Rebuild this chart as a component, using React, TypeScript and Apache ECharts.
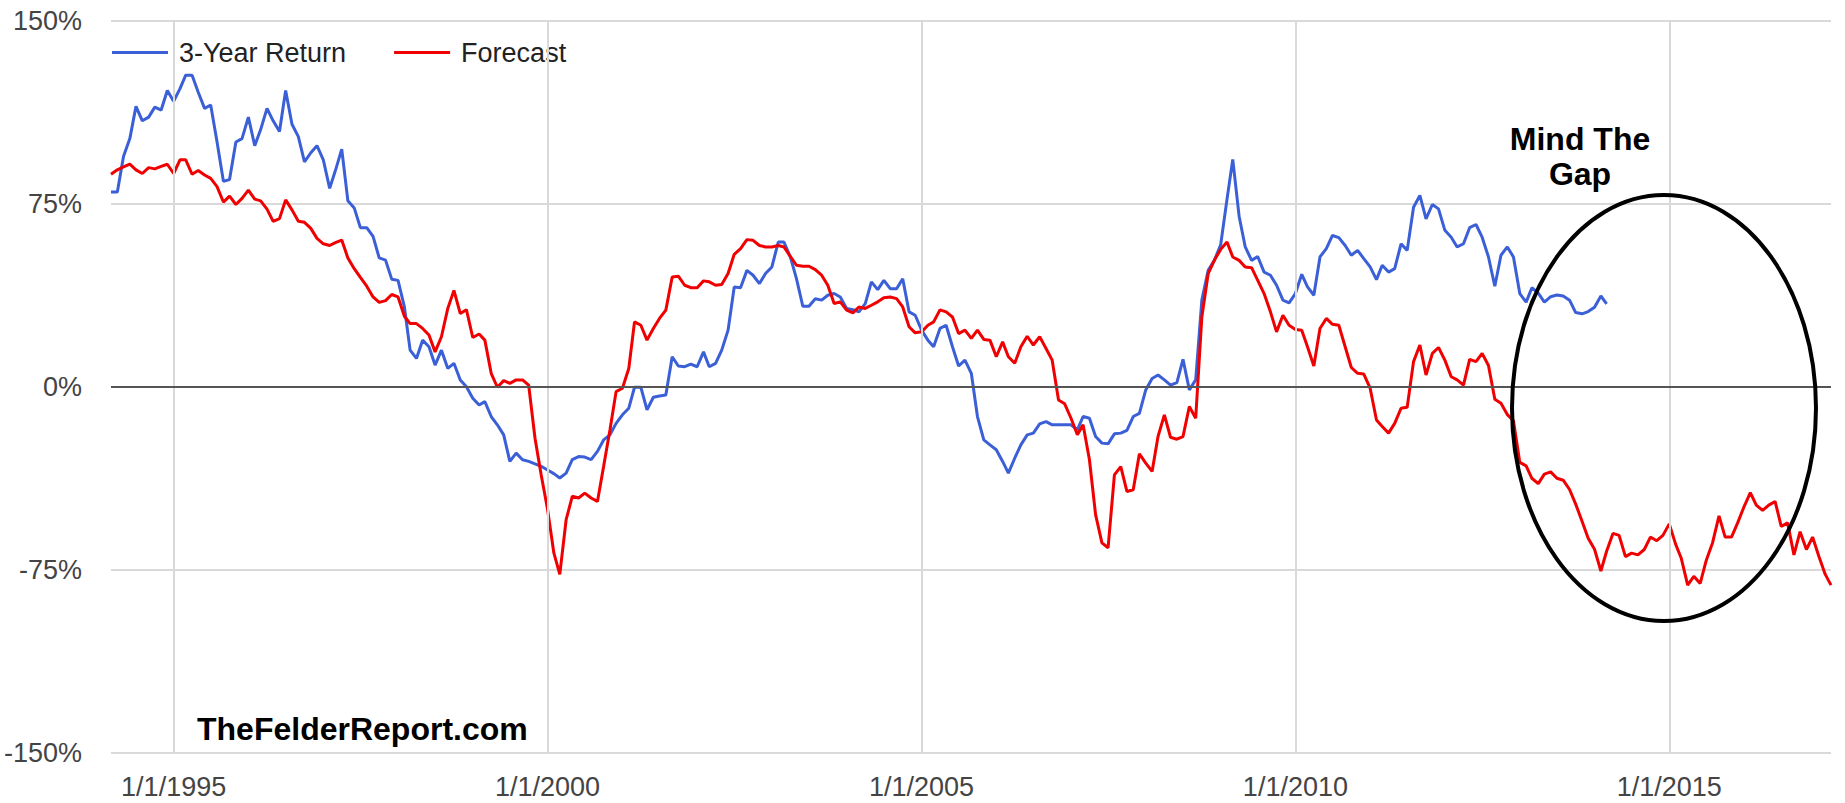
import React, { useEffect, useRef } from "react";
import * as echarts from "echarts";

// Monthly observations, first point March 1994
const START_YEAR = 1994;
const START_MONTH = 3;

const threeYearReturn: number[] = [
  79.9, 79.9, 94.5, 101.8, 115.0, 109.1, 110.6, 114.7, 113.5, 121.5,
  117.1, 122.3, 127.8, 127.8, 120.8, 114.2, 115.6, 100.4, 84.3, 85.0,
  100.4, 101.8, 110.6, 98.9, 105.5, 114.2, 109.1, 104.7, 121.5, 107.7,
  102.6, 92.3, 96.0, 98.9, 93.1, 81.4, 88.7, 97.5, 76.3, 73.4,
  65.3, 65.3, 61.7, 52.9, 52.0, 44.2, 43.7, 32.8, 15.1, 11.7,
  19.2, 16.5, 9.0, 15.1, 7.6, 9.7, 2.9, 0.1, -4.6, -7.4,
  -6.0, -12.1, -15.5, -19.6, -30.5, -27.1, -29.8, -30.5, -31.5, -32.5,
  -34.0, -35.5, -37.3, -35.3, -29.8, -28.5, -28.7, -29.8, -26.4, -21.7,
  -19.6, -14.9, -11.4, -8.7, -0.1, -0.1, -9.4, -4.2, -3.7, -3.3,
  12.4, 8.6, 8.3, 9.4, 8.3, 14.4, 8.3, 9.7, 15.1, 23.3,
  41.0, 40.7, 47.8, 45.8, 42.4, 46.5, 49.2, 59.4, 59.4, 53.3,
  44.4, 33.1, 33.1, 36.2, 35.6, 37.6, 38.3, 36.9, 32.2, 31.7,
  30.8, 34.2, 43.1, 39.9, 43.7, 40.3, 40.3, 44.4, 30.8, 29.4,
  23.3, 19.2, 16.5, 24.0, 25.3, 16.5, 8.6, 11.0, 5.6, -12.1,
  -21.7, -23.7, -25.7, -30.5, -35.3, -29.2, -23.7, -19.6, -18.9, -15.1,
  -14.2, -15.5, -15.5, -15.5, -15.5, -17.6, -12.1, -12.8, -20.3, -23.0,
  -23.3, -19.2, -18.9, -17.8, -12.1, -10.8, -1.2, 3.5, 4.9, 2.9,
  0.8, 1.8, 11.3, -1.2, 2.9, 35.6, 47.8, 51.9, 58.3, 77.0,
  93.3, 70.0, 57.4, 51.9, 53.5, 47.1, 45.8, 41.7, 35.6, 34.5,
  38.3, 46.2, 41.0, 37.6, 53.3, 56.7, 62.1, 61.2, 58.0, 54.0,
  56.0, 52.6, 49.2, 44.0, 49.9, 47.1, 48.5, 58.7, 56.0, 73.7,
  78.5, 68.9, 74.8, 73.0, 64.2, 61.4, 57.4, 58.7, 65.3, 66.6,
  61.4, 53.3, 41.3, 54.0, 57.4, 53.3, 38.3, 34.8, 40.7, 38.5,
  34.8, 37.0, 37.7, 37.3, 35.6, 30.5, 30.0, 30.9, 32.7, 37.3,
  34.1,
];

const forecast: number[] = [
  87.2, 89.0, 90.2, 91.3, 89.0, 87.5, 89.9, 89.4, 90.4, 91.3,
  87.5, 93.1, 93.1, 87.2, 88.7, 86.9, 85.5, 82.1, 75.8, 78.2,
  74.8, 77.3, 80.7, 77.0, 76.3, 72.9, 67.9, 69.0, 76.7, 72.6,
  67.9, 67.5, 65.0, 60.9, 58.7, 58.0, 59.2, 60.2, 52.9, 48.5,
  44.9, 41.3, 36.9, 34.7, 35.4, 37.9, 36.9, 29.0, 26.0, 26.0,
  24.0, 21.3, 14.4, 20.6, 32.2, 39.6, 30.1, 31.7, 20.3, 21.7,
  19.2, 5.6, -0.1, 2.6, 1.5, 2.9, 2.9, 0.8, -21.0, -36.0,
  -50.0, -68.0, -76.8, -54.4, -44.8, -45.5, -43.5, -45.5, -46.9, -32.6,
  -17.6, -1.9, -0.5, 7.6, 26.7, 25.3, 19.2, 24.0, 28.1, 31.5,
  45.1, 45.4, 41.7, 40.7, 40.7, 43.5, 43.1, 41.7, 42.0, 46.5,
  54.4, 56.7, 60.4, 60.1, 58.0, 57.4, 57.4, 58.0, 57.4, 53.5,
  49.9, 49.5, 49.5, 48.1, 45.8, 41.7, 34.2, 34.9, 31.5, 30.4,
  32.8, 32.2, 33.5, 34.9, 36.6, 36.9, 36.2, 32.8, 24.7, 22.2,
  22.6, 25.3, 26.7, 31.6, 30.8, 28.7, 21.9, 23.3, 19.9, 23.3,
  19.5, 19.2, 12.4, 18.5, 12.4, 9.7, 16.5, 20.8, 17.2, 20.6,
  15.8, 11.0, -5.3, -6.9, -12.8, -19.6, -15.5, -29.8, -52.3, -63.9,
  -65.9, -36.0, -32.6, -42.8, -42.1, -27.4, -31.2, -34.6, -20.3, -11.4,
  -20.6, -21.4, -20.3, -8.0, -12.8, 28.7, 46.5, 51.9, 56.4, 59.4,
  53.3, 51.9, 49.2, 48.9, 43.7, 38.3, 30.8, 22.6, 29.4, 25.3,
  23.6, 23.3, 16.5, 8.6, 24.0, 28.1, 25.7, 25.3, 16.5, 8.0,
  5.6, 5.3, -0.5, -13.5, -16.2, -18.9, -14.9, -8.7, -8.3, 10.4,
  17.2, 4.9, 13.8, 16.2, 11.0, 4.2, 2.9, 0.8, 11.3, 10.4,
  13.8, 8.8, -5.0, -6.7, -11.3, -13.8, -30.9, -32.3, -37.4, -39.6,
  -35.7, -34.8, -37.4, -38.2, -42.0, -48.0, -55.0, -62.0, -66.5, -75.4,
  -67.3, -60.0, -60.8, -69.5, -68.1, -68.8, -66.6, -61.5, -63.0, -60.8,
  -56.1, -64.4, -70.3, -81.2, -77.6, -80.5, -71.0, -63.7, -52.8, -61.5,
  -61.5, -55.7, -49.1, -43.3, -48.4, -50.6, -48.4, -46.9, -57.1, -55.7,
  -68.8, -59.3, -66.6, -61.5, -69.5, -76.8, -81.2,
];

const tickYears: number[] = [1995, 2000, 2005, 2010, 2015];
const tickLabels: string[] = ["1/1/1995", "1/1/2000", "1/1/2005", "1/1/2010", "1/1/2015"];
const yTicks: number[] = [-150, -75, 0, 75, 150];

const FONT = "'Liberation Sans', Arial, Helvetica, sans-serif";

function monthTime(i: number): number {
  const m = START_MONTH - 1 + i;
  return new Date(START_YEAR + Math.floor(m / 12), m % 12, 1).getTime();
}

export default function App() {
  const ref = useRef<HTMLDivElement>(null);

  useEffect(() => {
    if (!ref.current) return;
    const chart = echarts.init(ref.current, null, { renderer: "svg" });

    const blueData = threeYearReturn.map((v, i) => [monthTime(i), v]);
    const redData = forecast.map((v, i) => [monthTime(i), v]);
    const tickTimes = tickYears.map((y) => new Date(y, 0, 1).getTime());

    chart.setOption({
      animation: false,
      backgroundColor: "#ffffff",
      grid: { left: 111, right: 14, top: 21, bottom: 50, outerBoundsMode: "none" },
      legend: {
        data: ["3-Year Return", "Forecast"],
        left: 107,
        top: 34,
        icon: "rect",
        itemWidth: 56,
        itemHeight: 3,
        itemGap: 48,
        textStyle: { fontSize: 27, color: "#222", fontFamily: FONT, padding: [0, 0, 0, 6] },
      },
      xAxis: {
        type: "time",
        min: monthTime(0),
        max: monthTime(forecast.length - 1),
        axisLine: { show: false },
        axisTick: { show: false },
        splitLine: { show: false },
        axisLabel: { show: false },
      },
      yAxis: {
        type: "value",
        min: yTicks[0],
        max: yTicks[yTicks.length - 1],
        interval: 75,
        axisLine: { show: false },
        axisTick: { show: false },
        axisLabel: {
          formatter: "{value}%",
          fontSize: 27,
          color: "#444",
          fontFamily: FONT,
          margin: 29,
        },
        splitLine: { lineStyle: { color: "#d9d9d9", width: 2 } },
      },
      series: [
        {
          name: "grid",
          type: "line",
          data: [],
          z: 1,
          silent: true,
          markLine: {
            silent: true,
            symbol: ["none", "none"],
            animation: false,
            data: [
              ...tickTimes.map((t, k) => ({
                xAxis: t,
                lineStyle: { color: "#d9d9d9", width: 2, type: "solid" },
                label: {
                  show: true,
                  position: "start",
                  distance: 20,
                  formatter: tickLabels[k],
                  fontSize: 27,
                  color: "#444",
                  fontFamily: FONT,
                },
              })),
              {
                yAxis: 0,
                lineStyle: { color: "#555", width: 2, type: "solid" },
                label: { show: false },
              },
            ],
          },
        },
        {
          name: "3-Year Return",
          type: "line",
          data: blueData,
          showSymbol: false,
          symbol: "none",
          color: "#3b5fd6",
          lineStyle: { color: "#3b5fd6", width: 3 },
          z: 2,
        },
        {
          name: "Forecast",
          type: "line",
          data: redData,
          showSymbol: false,
          symbol: "none",
          color: "#f00000",
          lineStyle: { color: "#f00000", width: 3 },
          z: 3,
        },
      ],
      graphic: [
        {
          type: "ellipse",
          shape: { cx: 1664, cy: 408, rx: 152, ry: 213 },
          style: { fill: "none", stroke: "#000", lineWidth: 4 },
          z: 10,
        },
        {
          type: "text",
          x: 1580,
          y: 139,
          style: {
            text: "Mind The",
            font: `bold 32px ${FONT}`,
            fill: "#000",
            textAlign: "center",
            textVerticalAlign: "middle",
          },
          z: 10,
        },
        {
          type: "text",
          x: 1580,
          y: 174,
          style: {
            text: "Gap",
            font: `bold 32px ${FONT}`,
            fill: "#000",
            textAlign: "center",
            textVerticalAlign: "middle",
          },
          z: 10,
        },
        {
          type: "text",
          x: 197,
          y: 729,
          style: {
            text: "TheFelderReport.com",
            font: `bold 32px ${FONT}`,
            fill: "#000",
            textAlign: "left",
            textVerticalAlign: "middle",
          },
          z: 10,
        },
      ],
    });

    return () => chart.dispose();
  }, []);

  return (
    <div
      ref={ref}
      style={{ position: "absolute", left: 0, top: 0, width: 1845, height: 803 }}
    />
  );
}
